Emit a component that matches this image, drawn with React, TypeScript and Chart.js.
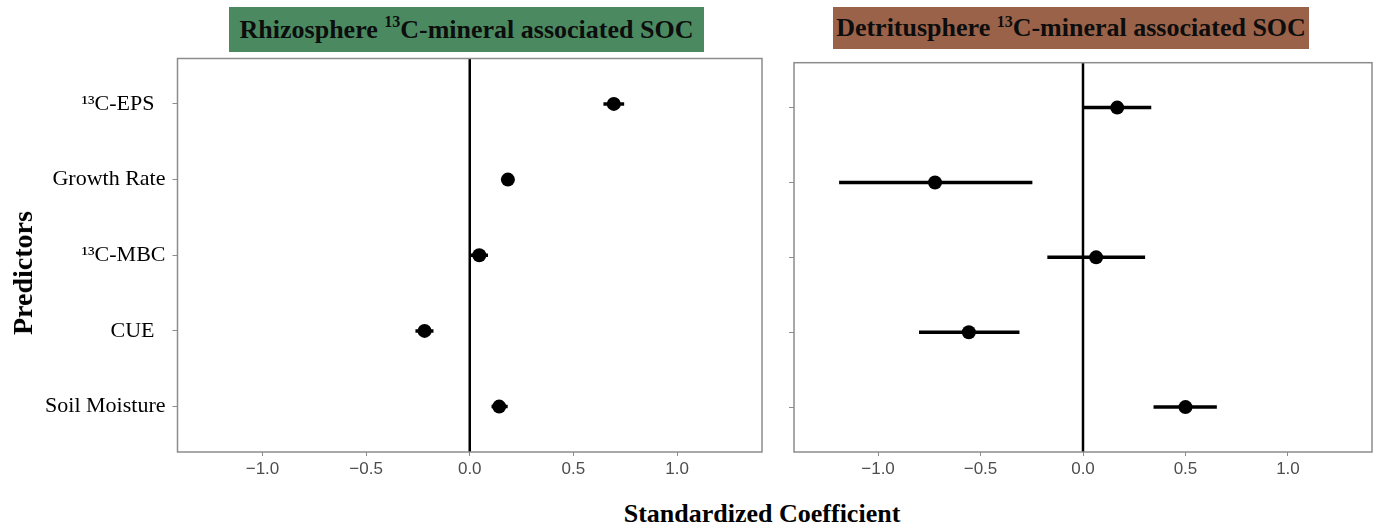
import React, { useEffect, useRef } from "react";
import { Chart, registerables } from "chart.js";

Chart.register(...registerables);

const predictors = ["¹³C-EPS  ", "Growth Rate", "¹³C-MBC", "CUE  ", "Soil Moisture"];

const rhizoEst = [0.695, 0.184, 0.046, -0.218, 0.142];
const rhizoLow = [0.645, 0.17, 0.005, -0.262, 0.105];
const rhizoHigh = [0.745, 0.2, 0.088, -0.175, 0.183];

const detEst = [0.167, -0.722, 0.064, -0.557, 0.5];
const detLow = [0.0, -1.19, -0.174, -0.8, 0.344];
const detHigh = [0.333, -0.247, 0.303, -0.31, 0.653];

const xTicks = [-1, -0.5, 0, 0.5, 1];
const xMin = -1.41;
const xMax = 1.41;

const SERIF = "'Liberation Serif', 'Times New Roman', Times, serif";
const SANS = "'Liberation Sans', Arial, Helvetica, sans-serif";

const fmtX = (v: number) => (v < 0 ? "\u2212" + Math.abs(v).toFixed(1) : v.toFixed(1));

const boxPlugin = {
  id: "panelBox",
  afterDraw(chart: any) {
    const { ctx, chartArea } = chart;
    ctx.save();
    ctx.strokeStyle = "#8c8c8c";
    ctx.lineWidth = 1.5;
    ctx.strokeRect(chartArea.left, chartArea.top, chartArea.right - chartArea.left, chartArea.bottom - chartArea.top);
    ctx.restore();
  },
};

function makeChart(
  canvas: HTMLCanvasElement,
  est: number[],
  low: number[],
  high: number[],
  showLabels: boolean,
  yWidth: number,
  padTop: number,
  padRight: number
) {
  const datasets: any[] = [];
  datasets.push({
    type: "scatter",
    data: est.map((v, i) => ({ x: v, y: i + 1 })),
    pointRadius: 7,
    pointHoverRadius: 7,
    backgroundColor: "#000",
    borderColor: "#000",
    borderWidth: 0,
    order: 0,
  });
  low.forEach((lo, i) => {
    datasets.push({
      type: "line",
      data: [
        { x: lo, y: i + 1 },
        { x: high[i], y: i + 1 },
      ],
      borderColor: "#000",
      borderWidth: 3.5,
      borderCapStyle: "butt",
      pointRadius: 0,
      fill: false,
      order: 1,
    });
  });
  datasets.push({
    type: "line",
    data: [
      { x: 0, y: 0.4 },
      { x: 0, y: 5.6 },
    ],
    borderColor: "#000",
    borderWidth: 2.5,
    borderCapStyle: "butt",
    pointRadius: 0,
    fill: false,
    order: 2,
  });

  return new Chart(canvas, {
    type: "scatter",
    data: { datasets },
    plugins: [boxPlugin],
    options: {
      animation: false,
      responsive: false,
      maintainAspectRatio: false,
      layout: { padding: { top: padTop, right: padRight, left: 0, bottom: 0 } },
      plugins: { legend: { display: false }, tooltip: { enabled: false }, title: { display: false } },
      scales: {
        x: {
          type: "linear",
          min: xMin,
          max: xMax,
          afterBuildTicks: (s: any) => {
            s.ticks = xTicks.map((v) => ({ value: v }));
          },
          afterFit: (s: any) => {
            s.height = 40;
          },
          ticks: {
            callback: (v: any) => fmtX(Number(v)),
            font: { family: SANS, size: 17 },
            color: "#4d4d4d",
            padding: 3,
            maxRotation: 0,
            autoSkip: false,
          },
          grid: { drawOnChartArea: false, drawTicks: true, tickLength: 4, color: "#8c8c8c" },
          border: { display: false },
        },
        y: {
          type: "linear",
          min: 0.4,
          max: 5.6,
          reverse: true,
          afterBuildTicks: (s: any) => {
            s.ticks = predictors.map((_, i) => ({ value: i + 1 }));
          },
          afterFit: (s: any) => {
            s.width = yWidth;
          },
          ticks: {
            callback: (v: any) => (showLabels ? predictors[Math.round(Number(v)) - 1] : ""),
            font: { family: SERIF, size: 22 },
            color: "#000",
            padding: 7,
            autoSkip: false,
          },
          grid: { drawOnChartArea: false, drawTicks: true, tickLength: 5, color: "#8c8c8c" },
          border: { display: false },
        },
      },
    } as any,
  });
}

export default function App() {
  const leftRef = useRef<HTMLCanvasElement>(null);
  const rightRef = useRef<HTMLCanvasElement>(null);

  useEffect(() => {
    const c1 = makeChart(leftRef.current!, rhizoEst, rhizoLow, rhizoHigh, true, 177.5, 58.5, 8);
    const c2 = makeChart(rightRef.current!, detEst, detLow, detHigh, false, 14, 62.7, 7);
    return () => {
      c1.destroy();
      c2.destroy();
    };
  }, []);

  const titleStyle: React.CSSProperties = {
    position: "absolute",
    top: 7,
    fontFamily: SERIF,
    fontWeight: "bold",
    fontSize: 26,
    color: "#0d0d0d",
    textAlign: "center",
    whiteSpace: "nowrap",
  };
  const supStyle: React.CSSProperties = { fontSize: 16, verticalAlign: "top", lineHeight: "30px" };

  return (
    <div style={{ position: "absolute", left: 0, top: 0, width: 1379, height: 528, background: "#fff", overflow: "hidden" }}>
      <canvas ref={leftRef} width={770} height={492} style={{ position: "absolute", left: 0, top: 0, width: 770, height: 492 }} />
      <canvas ref={rightRef} width={599} height={492} style={{ position: "absolute", left: 780, top: 0, width: 599, height: 492 }} />
      <div style={{ ...titleStyle, left: 229, width: 475, height: 45, lineHeight: "45px", background: "#4b8a61" }}>
        Rhizosphere <span style={supStyle}>13</span>C-mineral associated SOC
      </div>
      <div style={{ ...titleStyle, left: 833, width: 476, height: 42, lineHeight: "42px", background: "#9a6249" }}>
        Detritusphere <span style={supStyle}>13</span>C-mineral associated SOC
      </div>
      <div
        style={{
          position: "absolute",
          left: 23,
          top: 273,
          transform: "translate(-50%, -50%) rotate(-90deg)",
          fontFamily: SERIF,
          fontWeight: "bold",
          fontSize: 28,
          color: "#000",
          whiteSpace: "nowrap",
          lineHeight: "30px",
        }}
      >
        Predictors
      </div>
      <div
        style={{
          position: "absolute",
          left: 562,
          width: 400,
          top: 500,
          textAlign: "center",
          fontFamily: SERIF,
          fontWeight: "bold",
          fontSize: 26,
          lineHeight: "28px",
          color: "#000",
        }}
      >
        Standardized Coefficient
      </div>
    </div>
  );
}
